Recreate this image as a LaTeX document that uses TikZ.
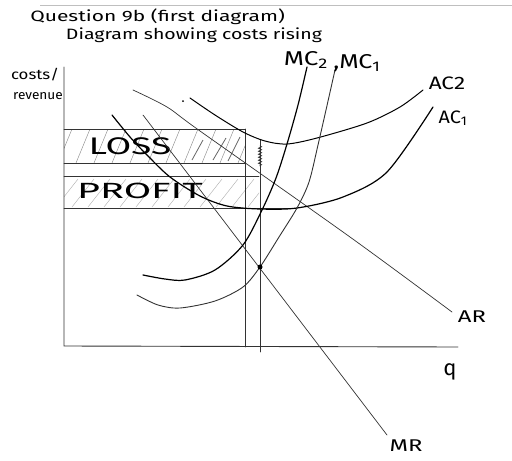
\documentclass[tikz,border=0pt]{standalone}
\usepackage{fontspec}
\setmainfont{Fira Sans}
\usetikzlibrary{decorations.pathmorphing}
\begin{document}
\begin{tikzpicture}[x=1pt,y=-1pt,
  ln/.style={line width=0.7pt, black!80, line cap=round},
  thk/.style={line width=1.2pt, black, line cap=round},
  lbl/.style={font=\fontsize{15}{15}\selectfont, inner sep=0pt},
  hatchl/.style={line width=0.45pt, black!45},
  hatchp/.style={line width=0.45pt, black!30},
  darkh/.style={line width=0.8pt, black!60},
]
\useasboundingbox (0,0) rectangle (512,461);
\draw[black!25, line width=0.5pt] (40,5) -- (512,5);

% titles
\coordinate (t1pos) at (30,17);
\node[lbl, xscale=1.4, anchor=west] (t1) at (t1pos) {Question 9b (first diagram)};
\node[lbl, xscale=1.3] (t2) at (194,35) {Diagram showing costs rising};
\node[lbl, font=\fontsize{14}{14}\selectfont, xscale=1.2] (yl1) at (35,75) {costs/};
\node[lbl, font=\fontsize{13}{13}\selectfont, xscale=1.05] (yl2) at (38,96) {revenue};

% hatching
\begin{scope}
  \clip (64,129) rectangle (245,163);
  \foreach \x in {40,58,...,260} \draw[hatchl] (\x,163) -- (\x+14,129);
\end{scope}
\begin{scope}
  \clip (64,176) rectangle (259,208);
  \foreach \x in {40,56,...,280} \draw[hatchp] (\x,207) -- (\x+22,179);
\end{scope}
\draw[darkh] (192,160) -- (203,140);
\draw[darkh] (213,160) -- (226,138);
\draw[darkh] (228,161) -- (240,137);

% boxes
\draw[ln] (64,129) -- (245,129);
\draw[ln] (64,163) -- (245,163);
\draw[ln] (64,176) -- (259,176);
\draw[ln] (64,208) -- (297,208);
\node[lbl, font=\fontsize{24}{24}\selectfont, xscale=1.55] (loss) at (130,146) {LOSS};
\node[lbl, font=\fontsize{22}{22}\selectfont, xscale=1.8] (profit) at (140,191) {PROFIT};

% verticals
\draw[ln] (245,129) -- (245,347);
\draw[ln] (260,140) -- (260,352);
\draw[ln, decorate, decoration={zigzag, amplitude=1.5pt, segment length=3pt}] (260,146) -- (260,166);

% axes
\coordinate (o) at (64,346);
\coordinate (ytop) at (64,67);
\coordinate (xend) at (458,347);
\draw[ln, line width=0.9pt] (ytop) -- (o) -- (xend);

% AR and MR
\draw[ln] plot[smooth] coordinates {(133,90) (167,107) (200,131) (350,237) (452,312)};
\draw[ln] (143,115) -- (387,435);

% AC2
\draw[thk, line width=1pt] plot[smooth] coordinates {(190,98) (215,115) (243,132) (265,141) (287,144) (317,138) (367,123) (400,107) (423,90)};
% AC1
\draw[thk] plot[smooth] coordinates {(112,115) (130,137) (147,155) (170,177) (200,196) (227,206) (260,209) (297,208) (343,197) (387,172) (433,107)};
% MC2
\draw[thk] plot[smooth] coordinates {(143,275) (165,279) (185,280) (215,270) (243,245) (262,210) (276,178) (287,144) (298,105) (307,67)};
% MC1
\draw[ln, line width=0.9pt] plot[smooth] coordinates {(137,295) (158,305) (180,308) (215,301) (243,287) (260,267) (279,237) (297,208) (309,182) (318,145) (326,110) (335,70)};

\fill (260,267) circle (2.5pt);
\fill (183,101) circle (1pt);

% labels
\node[lbl, font=\fontsize{20}{20}\selectfont, xscale=1.3] (mc2) at (306,60) {MC\textsubscript{2}};
\node[lbl, font=\fontsize{20}{20}\selectfont, xscale=1.25, anchor=west] (mc1) at (333,63) {,MC\textsubscript{1}};
\node[lbl, font=\fontsize{18}{18}\selectfont, xscale=1.25] (ac2) at (447,83) {AC2};
\node[lbl, font=\fontsize{18}{18}\selectfont, xscale=1.1] (ac1) at (453,118) {AC\textsubscript{1}};
\node[lbl, font=\fontsize{17}{17}\selectfont, xscale=1.4] (ar) at (472,317) {AR};
\node[lbl, font=\fontsize{22}{22}\selectfont] (q) at (450,372) {q};
\node[lbl, font=\fontsize{17}{17}\selectfont, xscale=1.4] (mr) at (406,446) {MR};
\end{tikzpicture}
\end{document}
